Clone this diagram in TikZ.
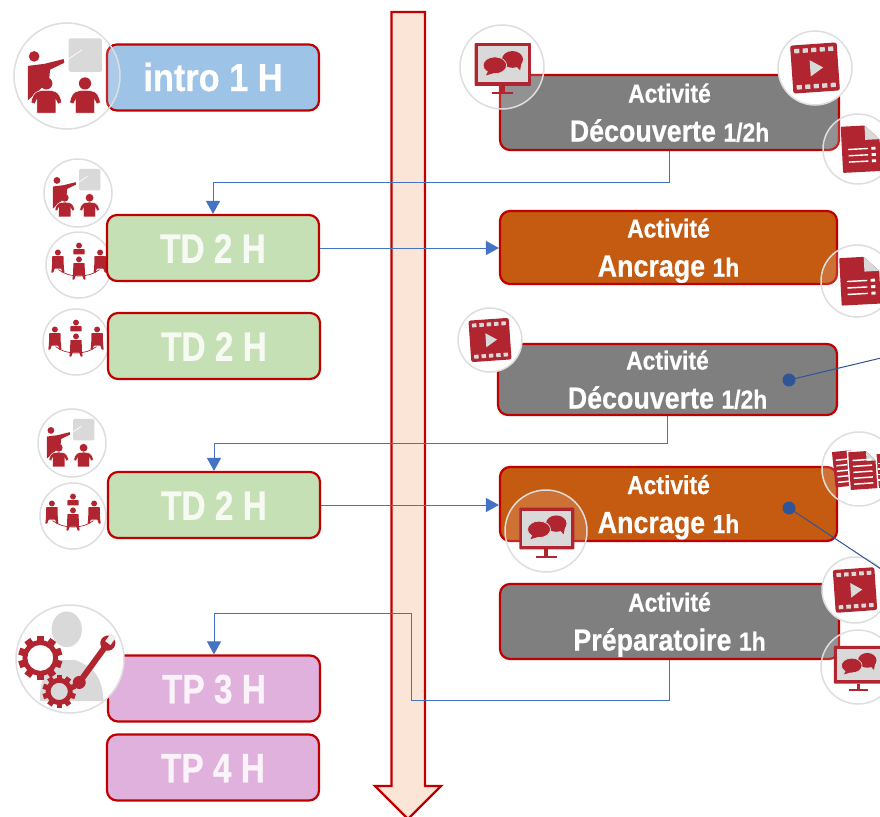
\documentclass[tikz,border=0pt]{standalone}
\usepackage{fontspec}
\setmainfont{Liberation Sans}[FakeStretch=0.88,BoldFeatures={FakeBold=0.5}]
\newfontfamily\tallfont{Liberation Sans}[FakeStretch=0.815,BoldFeatures={FakeBold=0.5}]
\usetikzlibrary{arrows.meta}
\definecolor{boxline}{HTML}{C00000}
\definecolor{iconred}{HTML}{B02530}
\definecolor{icongray}{HTML}{D9D9D9}
\definecolor{ringgray}{HTML}{DEDEDE}
\definecolor{conn}{HTML}{4472C4}
\definecolor{dotblue}{HTML}{2F5597}
\definecolor{bluecell}{HTML}{9DC3E6}
\definecolor{greencell}{HTML}{C5E0B4}
\definecolor{pinkcell}{HTML}{E0B1DC}
\definecolor{greycell}{HTML}{7F7F7F}
\definecolor{orangecell}{HTML}{C55A11}
\definecolor{timefill}{HTML}{FBE5D6}
\newcommand{\acta}{\fontsize{26}{39}\selectfont\bfseries}
\newcommand{\actb}{\fontsize{30.5}{39}\selectfont\bfseries}
\newcommand{\bust}[2]{\fill[iconred,draw=white,line width=.5pt,shift={(#1,0)}] (-.29,.50) .. controls (-.25,.28) and (-.15,.27) .. (0,.27) .. controls (.15,.27) and (.25,.28) .. (.29,.50) -- (.22,.53) -- (.18,.45) -- (.18,.70) -- (-.18,.70) -- (-.18,.45) -- (-.22,.53) -- cycle;
 \fill[iconred] (#1,#2) circle[radius=.115];}
\newcommand{\sitter}[2]{\begin{scope}[shift={(#1,#2)}]
 \fill[iconred] (0,-.11) circle[radius=.09];
 \fill[iconred,rounded corners=.5pt] (-.17,0) -- (.17,0) -- (.18,.34) -- (.20,.50) -- (.14,.50) -- (.10,.38) -- (-.10,.38) -- (-.14,.50) -- (-.20,.50) -- (-.18,.34) -- cycle;
 \end{scope}}
\newcommand{\gearshape}[4]{\begin{scope}[shift={(#1,#2)}]
 \foreach \a in {0,36,...,324}{\fill[iconred,rotate=\a] (-.2*#3,.9*#3) rectangle (.2*#3,1.24*#3);}
 \fill[iconred,even odd rule] (0,0) circle[radius=#3] (0,0) circle[radius=#4];
 \end{scope}}
\tikzset{
 x=1pt,y=-1pt,
 cell/.style={draw=boxline,line width=2.2pt,rounded corners=10pt,inner sep=0pt,minimum width=212pt,minimum height=66pt,text=white,text opacity=.85,font=\tallfont\fontsize{41}{41}\selectfont\bfseries,text depth=0pt,text height=29.5pt},
 introcell/.style={cell,text opacity=1,font=\fontsize{39}{39}\selectfont\bfseries,text height=27pt},
 activity/.style={draw=boxline,line width=2.2pt,rounded corners=10pt,inner sep=0pt,text=white,align=center,font=\actb,text depth=0pt},
 ringclear/.style={draw=ringgray,line width=1.5pt,fill=white,fill opacity=.15},
 ringwhite/.style={draw=ringgray,line width=1.5pt,fill=white},
 link/.style={draw=conn,line width=1pt,-{Triangle[width=14pt,length=13pt]}},
 stem/.style={draw=dotblue,line width=1pt},
 pindot/.style={circle,fill=dotblue,inner sep=0pt,minimum size=13pt},
 teacher/.pic={
  \fill[icongray,rounded corners=.05cm] (.03,-.71) rectangle (.66,-.08);
  \draw[white,line width=.7pt] (-.05,-.27) -- (.28,-.49);
  \fill[iconred] (-.62,-.37) circle[radius=.10];
  \fill[iconred,rounded corners=.5pt] (-.74,-.19) -- (-.42,-.23) -- (-.06,-.32) -- (-.05,-.25) -- (-.32,-.12) -- (-.34,.10) -- (-.74,.46) -- cycle;
  \bust{-.39}{.14}\bust{.34}{.14}
 },
 meeting/.pic={
  \fill[iconred] (0,-.59) circle[radius=.09];
  \fill[iconred,rounded corners=.5pt] (-.17,-.48) rectangle (.17,-.32);
  \draw[iconred,line width=.7pt] (-.62,.14) .. controls (-.3,.40) and (.3,.40) .. (.62,.14);
  \sitter{0}{-.06}\sitter{-.64}{-.27}\sitter{.64}{-.27}
 },
 video/.pic={
  \begin{scope}[rotate=4]
  \fill[iconred,rounded corners=.08cm] (-.63,-.65) rectangle (.63,.65);
  \foreach \q in {-.46,-.23,0,.23,.46}{
   \fill[icongray] (\q-.07,-.55) rectangle (\q+.07,-.43);
   \fill[icongray] (\q-.07,.43) rectangle (\q+.07,.55);}
  \fill[icongray] (-.13,-.22) -- (.22,0) -- (-.13,.22) -- cycle;
  \end{scope}
 },
 docpage/.pic={
  \begin{scope}[rotate=3]
  \fill[iconred,rounded corners=.03cm] (-.46,-.66) -- (.22,-.66) -- (.63,-.25) -- (.63,.66) -- (-.46,.66) -- cycle;
  \fill[icongray] (.22,-.66) -- (.63,-.25) -- (.22,-.25) -- cycle;
  \foreach \q in {.0,.18,.36}{
   \fill[white] (-.28,\q-.02) rectangle (.28,\q+.02);
   \fill[white] (.38,\q-.04) rectangle (.50,\q+.04);}
  \end{scope}
 },
 docstack/.pic={
  \begin{scope}[rotate=6]
  \fill[iconred] (-.68,-.53) rectangle (-.12,.43);
  \foreach \q in {-.3,-.15,0,.15,.3}{\fill[white] (-.6,\q-.02) rectangle (-.3,\q+.02);}
  \end{scope}
  \fill[iconred] (.40,-.40) rectangle (.80,.50);
  \foreach \q in {-.15,0,.15,.3}{\fill[white] (.5,\q-.02) rectangle (.8,\q+.02);}
  \begin{scope}[rotate=4]
  \fill[white] (-.30,-.52) rectangle (.50,.60);
  \fill[iconred] (-.26,-.47) -- (.22,-.47) -- (.46,-.2) -- (.46,.55) -- (-.26,.55) -- cycle;
  \fill[icongray] (.22,-.47) -- (.46,-.2) -- (.22,-.2) -- cycle;
  \foreach \q in {-.24,-.08,.08,.24,.40}{\fill[white] (-.16,\q-.02) rectangle (.36,\q+.02);}
  \end{scope}
 },
 screen/.pic={
  \fill[iconred,rounded corners=.03cm] (-.65,-.57) rectangle (.69,.45);
  \fill[icongray] (-.58,-.50) rectangle (.62,.36);
  \fill[iconred] (-.04,.45) rectangle (.06,.63);
  \fill[iconred] (-.25,.60) rectangle (.27,.65);
  \fill[iconred] (.25,-.18) ellipse[x radius=.25,y radius=.20];
  \fill[iconred] (.34,-.02) -- (.43,.08) -- (.46,-.08) -- cycle;
  \fill[iconred,draw=icongray,line width=.7pt] (-.17,-.04) ellipse[x radius=.28,y radius=.20];
  \fill[iconred] (-.33,.10) -- (-.38,.20) -- (-.18,.14) -- cycle;
 },
 tools/.pic={
  \fill[icongray] (-.06,-.55) ellipse[x radius=.28,y radius=.33];
  \fill[icongray] (-.56,.78) .. controls (-.56,.25) and (-.35,.12) .. (-.20,.02) -- (.10,.02) .. controls (.35,.12) and (.6,.25) .. (.62,.78) -- cycle;
  \gearshape{-.55}{-.02}{.33}{.24}
  \gearshape{-.20}{.60}{.25}{.16}
  \begin{scope}[shift={(.16,.45)},rotate=54]
  \fill[iconred] (0,-.055) rectangle (.85,.055);
  \fill[iconred] (.02,0) circle[radius=.12];
  \fill[iconred] (.92,0) circle[radius=.14];
  \fill[icongray!40] (.92,-.06) rectangle (1.10,.06);
  \end{scope}
 }
}
\newcommand{\placeicon}[5]{\draw[#5] (#2,#3) circle[radius=#4 pt];\pic[scale=#4] at (#2,#3) {#1};}
\begin{document}
\begin{tikzpicture}
\useasboundingbox (0,0) rectangle (880,816);
\clip (0,0) rectangle (880,816);
\fill[white] (0,0) rectangle (880,816);
% time arrow
\draw[fill=timefill,draw=boxline,line width=2.4pt,line join=miter]
 (391.5,12) -- (425,12) -- (425,786) -- (441,786) -- (408,819) -- (375,786) -- (391.5,786) -- cycle;
% rings behind boxes
\placeicon{meeting}{79}{265}{33}{ringwhite}
\placeicon{meeting}{76}{342}{33}{ringwhite}
\placeicon{meeting}{73}{516}{33}{ringwhite}
% left boxes
\node[introcell,fill=bluecell] (intro) at (213,77.5) {intro 1 H};
\node[cell,fill=greencell] (tda) at (213,248) {TD 2 H};
\node[cell,fill=greencell] (tdb) at (214,346) {TD 2 H};
\node[cell,fill=greencell] (tdc) at (214,505) {TD 2 H};
\node[cell,fill=pinkcell] (tpa) at (214,688.5) {TP 3 H};
\node[cell,fill=pinkcell] (tpb) at (213,767.5) {TP 4 H};
% right boxes
\node[activity,fill=greycell,minimum width=339pt,minimum height=75pt] (acta) at (669.5,112.5) {{\acta Activité}\\{\actb Découverte }{\acta 1/2h}};
\node[activity,fill=orangecell,minimum width=337pt,minimum height=73pt] (actb) at (668.5,247.5) {{\acta Activité}\\{\actb Ancrage }{\acta 1h}};
\node[activity,fill=greycell,minimum width=339pt,minimum height=71pt] (actc) at (667.5,379.5) {{\acta Activité}\\{\actb Découverte }{\acta 1/2h}};
\node[activity,fill=orangecell,minimum width=337pt,minimum height=74pt] (actd) at (668.5,504) {{\acta Activité}\\{\actb Ancrage }{\acta 1h}};
\node[activity,fill=greycell,minimum width=339pt,minimum height=75pt] (acte) at (669.5,621.5) {{\acta Activité}\\{\actb Préparatoire }{\acta 1h}};
% connectors
\coordinate (ja) at (213,182);
\coordinate (jb) at (214,443);
\coordinate (jc) at (411,700);
\coordinate (jd) at (411,613);
\coordinate (je) at (214,613);
\draw[link] (acta.south) |- (ja) -- (tda.north);
\draw[link] (tda.east) -- (actb.west |- tda.east);
\draw[link] (actc.south) |- (jb) -- (tdc.north);
\draw[link] (tdc.east) -- (actd.west |- tdc.east);
\draw[link] (acte.south) |- (jc) -- (jd) -- (je) -- (tpa.north);
% icons
\placeicon{teacher}{67}{76}{53}{ringclear}
\placeicon{teacher}{78}{193}{34}{ringwhite}
\placeicon{teacher}{72}{443}{34}{ringwhite}
\placeicon{tools}{70}{659}{54}{ringwhite}
\placeicon{screen}{502}{67}{42}{ringclear}
\placeicon{video}{815}{68}{37}{ringwhite}
\placeicon{docpage}{858}{149}{35}{ringclear}
\placeicon{docpage}{857}{281}{36}{ringclear}
\placeicon{video}{490}{340}{32}{ringwhite}
\placeicon{docstack}{859}{469}{37}{ringclear}
\placeicon{screen}{546}{531}{41}{ringclear}
\placeicon{video}{855}{590}{33}{ringwhite}
\placeicon{screen}{858}{667}{37}{ringclear}
% pins
\node[pindot] (pina) at (789,380) {};
\node[pindot] (pinb) at (789,508) {};
\coordinate (outa) at (881,358);
\coordinate (outb) at (881,569);
\draw[stem] (pina.center) -- (outa);
\draw[stem] (pinb.center) -- (outb);
\end{tikzpicture}
\end{document}
